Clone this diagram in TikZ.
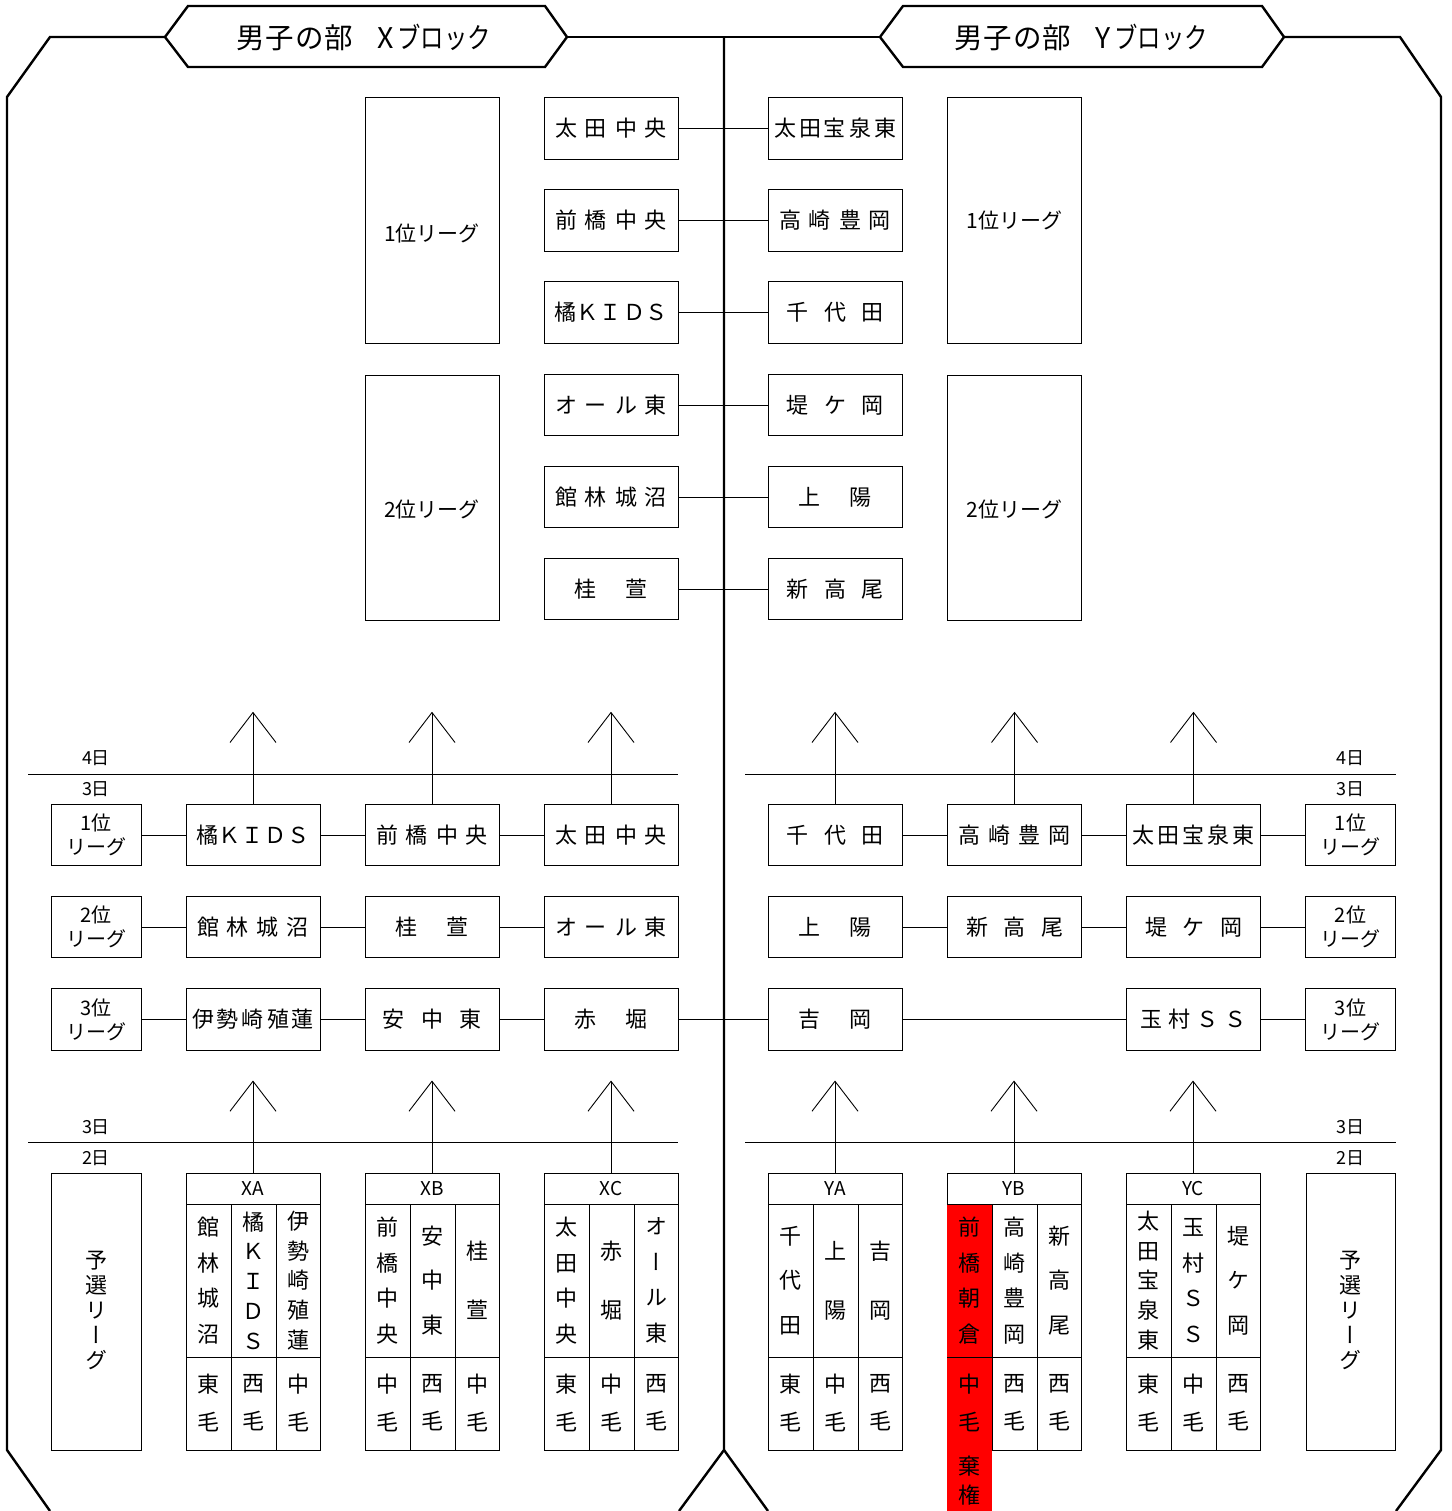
\documentclass[tikz,border=0pt]{standalone}
\usepackage{fontspec}
\setmainfont{Noto Sans CJK JP}
\newfontfamily\ttlfont{Noto Sans CJK JP}[FakeStretch=0.82]
\usetikzlibrary{arrows.meta}
\newcommand\gtab[3]{%
  \node[tbl] (#1) at (#2+67,1311.5) {};
  \draw[tline] (#2,1204) -- ++(134,0);
  \draw[tline] (#2,1357) -- ++(134,0);
  \draw[tline] (#2+45,1204) -- (#2+45,1450);
  \draw[tline] (#2+90,1204) -- (#2+90,1450);
  \node[hdr] (#1h) at (#2+67,1188.5) {#3};
}
\begin{document}
\begin{tikzpicture}[x=1pt,y=-1pt,
  box/.style={draw,line width=1pt,minimum width=134pt,minimum height=61.5pt,inner sep=0pt,font=\fontsize{22}{26}\selectfont},
  lg/.style={draw,line width=1pt,minimum width=90pt,minimum height=61.5pt,inner sep=0pt,align=center,font=\fontsize{20}{24}\selectfont},
  big/.style={draw,line width=1pt,minimum width=134pt,minimum height=245pt,inner sep=0pt},
  lbl/.style={inner sep=0pt,font=\fontsize{21}{25}\selectfont},
  gapx/.style={execute at begin node={\spaceskip=#1pt\relax}},
  link/.style={line width=0.8pt},
  frm/.style={line width=2.4pt},
  uparrow/.style={line width=0.9pt,-{Straight Barb[length=30pt,width=46pt]}},
  day/.style={font=\fontsize{18}{20}\selectfont,inner sep=0pt},
  dayline/.style={line width=0.8pt},
  tbl/.style={draw,line width=1pt,minimum width=134pt,minimum height=277pt,inner sep=0pt},
  tline/.style={line width=1pt},
  hdr/.style={font=\fontsize{19}{22}\selectfont,inner sep=0pt},
  vt/.style={align=center,inner sep=0pt,font=\addfontfeature{RawFeature=+vert}\fontsize{22}{#1}\selectfont},
  ttl/.style={font=\fontsize{28.5}{32}\selectfont,inner sep=0pt,anchor=west}]
\useasboundingbox (0,0) rectangle (1451,1511);

% titles
\coordinate (xl) at (165,37); \coordinate (xr) at (567,37);
\coordinate (yl) at (880,37); \coordinate (yr) at (1284,37);
\draw[frm] (xl) -- (188,6) -- (545,6) -- (xr) -- (545,67) -- (188,67) -- cycle;
\draw[frm] (yl) -- (903,6) -- (1262,6) -- (yr) -- (1262,67) -- (903,67) -- cycle;
\node[ttl] (xt) at (236,37) {男\hspace{1pt}子\hspace{1pt}の\hspace{1pt}部\hspace{24pt}X\hspace{4pt}{\ttlfont ブロック}};
\node[ttl] (yt) at (954,37) {男\hspace{1pt}子\hspace{1pt}の\hspace{1pt}部\hspace{24pt}Y\hspace{4pt}{\ttlfont ブロック}};

% frame
\draw[frm] (xl) -- (50,37) -- (7,97) -- (7,1450) -- (50,1511);
\draw[frm] (xr) -- (yl);
\draw[frm] (724,37) -- (724,1450) -- (679,1511);
\draw[frm] (724,1450) -- (768,1511);
\draw[frm] (yr) -- (1400,37) -- (1441,97) -- (1441,1450) -- (1396,1511);

% top leagues
\node[big] (xL1) at (432,220.5) {};
\node[big] (xL2) at (432,497.5) {};
\node[big] (yL1) at (1014.5,220.5) {};
\node[big] (yL2) at (1014.5,497.5) {};
\node[lbl] (xL1t) at (432,233) {1位リーグ};
\node[lbl] (xL2t) at (432,509) {2位リーグ};
\node[lbl] (yL1t) at (1014.5,220) {1位リーグ};
\node[lbl] (yL2t) at (1014.5,509) {2位リーグ};

% top teams
\node[box,gapx=8] (tx1) at (611,128.5) {太 田 中 央};
\node[box,gapx=8] (tx2) at (611,220.5) {前 橋 中 央};
\node[box,gapx=1] (tx3) at (611,312.5) {橘 Ｋ Ｉ Ｄ Ｓ};
\node[box,gapx=8] (tx4) at (611,405) {オ ー ル 東};
\node[box,gapx=8] (tx5) at (611,497) {館 林 城 沼};
\node[box,gapx=30] (tx6) at (611,589) {桂 萱};
\node[box,gapx=3] (ty1) at (835,128.5) {太 田 宝 泉 東};
\node[box,gapx=8] (ty2) at (835,220.5) {高 崎 豊 岡};
\node[box,gapx=15.5] (ty3) at (835,312.5) {千 代 田};
\node[box,gapx=15.5] (ty4) at (835,405) {堤 ケ 岡};
\node[box,gapx=30] (ty5) at (835,497) {上 陽};
\node[box,gapx=15.5] (ty6) at (835,589) {新 高 尾};
\foreach \i in {1,...,6} \draw[link] (tx\i.east) -- (ty\i.west);

% day lines
\draw[dayline] (28,774) -- (678,774);
\draw[dayline] (745,774) -- (1396,774);
\draw[dayline] (28,1142) -- (678,1142);
\draw[dayline] (745,1142) -- (1396,1142);
\node[day] (d4l) at (96,758) {4日};
\node[day] (d3l) at (96,789) {3日};
\node[day] (d4r) at (1350,758) {4日};
\node[day] (d3r) at (1350,789) {3日};
\node[day] (e3l) at (96,1127) {3日};
\node[day] (e2l) at (96,1158) {2日};
\node[day] (e3r) at (1350,1127) {3日};
\node[day] (e2r) at (1350,1158) {2日};

% middle rows
\node[lg] (m1a) at (96,835) {1位\\リーグ};
\node[box,gapx=1] (m1b) at (253,835) {橘 Ｋ Ｉ Ｄ Ｓ};
\node[box,gapx=8] (m1c) at (432,835) {前 橋 中 央};
\node[box,gapx=8] (m1d) at (611,835) {太 田 中 央};
\node[box,gapx=15.5] (m1e) at (835,835) {千 代 田};
\node[box,gapx=8] (m1f) at (1014.5,835) {高 崎 豊 岡};
\node[box,gapx=3] (m1g) at (1193.5,835) {太 田 宝 泉 東};
\node[lg] (m1h) at (1350.5,835) {1位\\リーグ};

\node[lg] (m2a) at (96,927) {2位\\リーグ};
\node[box,gapx=8] (m2b) at (253,927) {館 林 城 沼};
\node[box,gapx=30] (m2c) at (432,927) {桂 萱};
\node[box,gapx=8] (m2d) at (611,927) {オ ー ル 東};
\node[box,gapx=30] (m2e) at (835,927) {上 陽};
\node[box,gapx=15.5] (m2f) at (1014.5,927) {新 高 尾};
\node[box,gapx=15.5] (m2g) at (1193.5,927) {堤 ケ 岡};
\node[lg] (m2h) at (1350.5,927) {2位\\リーグ};

\node[lg] (m3a) at (96,1019.5) {3位\\リーグ};
\node[box,gapx=3] (m3b) at (253,1019.5) {伊 勢 崎 殖 蓮};
\node[box,gapx=16.5] (m3c) at (432,1019.5) {安 中 東};
\node[box,gapx=30] (m3d) at (611,1019.5) {赤 堀};
\node[box,gapx=30] (m3e) at (835,1019.5) {吉 岡};
\node[box,gapx=6] (m3g) at (1193.5,1019.5) {玉 村 Ｓ Ｓ};
\node[lg] (m3h) at (1350.5,1019.5) {3位\\リーグ};

\foreach \r in {1,2} {
  \draw[link] (m\r a.east) -- (m\r b.west);
  \draw[link] (m\r b.east) -- (m\r c.west);
  \draw[link] (m\r c.east) -- (m\r d.west);
  \draw[link] (m\r e.east) -- (m\r f.west);
  \draw[link] (m\r f.east) -- (m\r g.west);
  \draw[link] (m\r g.east) -- (m\r h.west);
}
\draw[link] (m3a.east) -- (m3b.west);
\draw[link] (m3b.east) -- (m3c.west);
\draw[link] (m3c.east) -- (m3d.west);
\draw[link] (m3d.east) -- (m3e.west);
\draw[link] (m3e.east) -- (m3g.west);
\draw[link] (m3g.east) -- (m3h.west);

\foreach \n in {m1b,m1c,m1d,m1e,m1f,m1g} \draw[uparrow] (\n.north) -- ++(0,-92);

% bottom
\node[tbl,minimum width=90pt] (pl) at (96,1311.5) {};
\node[tbl,minimum width=89pt] (pr) at (1350.5,1311.5) {};
\node[vt=25] (plt) at (96,1310) {予\\選\\リ\\ー\\グ};
\node[vt=25] (prt) at (1350.5,1310) {予\\選\\リ\\ー\\グ};

\gtab{XA}{186}{XA}
\gtab{XB}{365}{XB}
\gtab{XC}{544}{XC}
\gtab{YA}{768}{YA}
\gtab{YB}{947}{YB}
\gtab{YC}{1126}{YC}
\fill[red] (946.5,1204.5) rectangle (992,1511);
\draw[tline] (947,1357) -- (992,1357);
\draw[tline] (992,1204) -- (992,1450);

\foreach \n in {XA,XB,XC,YA,YB,YC} \draw[uparrow] (\n.north) -- ++(0,-92);

% XA
\node[vt=35.7] (xa1) at (208,1280.5) {館\\林\\城\\沼};
\node[vt=29.75] (xa2) at (253,1280.5) {橘\\Ｋ\\Ｉ\\Ｄ\\Ｓ};
\node[vt=29.75] (xa3) at (298,1280.5) {伊\\勢\\崎\\殖\\蓮};
\node[vt=38] (xa4) at (208,1403) {東\\毛};
\node[vt=38] (xa5) at (253,1403) {西\\毛};
\node[vt=38] (xa6) at (298,1403) {中\\毛};
% XB
\node[vt=35.7] (xb1) at (387.5,1280.5) {前\\橋\\中\\央};
\node[vt=44.5] (xb2) at (432,1280.5) {安\\中\\東};
\node[vt=59] (xb3) at (477,1280.5) {桂\\萱};
\node[vt=38] (xb4) at (387.5,1403) {中\\毛};
\node[vt=38] (xb5) at (432,1403) {西\\毛};
\node[vt=38] (xb6) at (477,1403) {中\\毛};
% XC
\node[vt=35.7] (xc1) at (566.5,1280.5) {太\\田\\中\\央};
\node[vt=59] (xc2) at (611,1280.5) {赤\\堀};
\node[vt=35.7] (xc3) at (656,1280.5) {オ\\ー\\ル\\東};
\node[vt=38] (xc4) at (566.5,1403) {東\\毛};
\node[vt=38] (xc5) at (611,1403) {中\\毛};
\node[vt=38] (xc6) at (656,1403) {西\\毛};
% YA
\node[vt=44.5] (ya1) at (790.5,1280.5) {千\\代\\田};
\node[vt=59] (ya2) at (835,1280.5) {上\\陽};
\node[vt=59] (ya3) at (880,1280.5) {吉\\岡};
\node[vt=38] (ya4) at (790.5,1403) {東\\毛};
\node[vt=38] (ya5) at (835,1403) {中\\毛};
\node[vt=38] (ya6) at (880,1403) {西\\毛};
% YB
\node[vt=35.7] (yb1) at (969.5,1280.5) {前\\橋\\朝\\倉};
\node[vt=35.7] (yb2) at (1014,1280.5) {高\\崎\\豊\\岡};
\node[vt=44.5] (yb3) at (1059,1280.5) {新\\高\\尾};
\node[vt=38] (yb4) at (969.5,1403) {中\\毛};
\node[vt=38] (yb5) at (1014,1403) {西\\毛};
\node[vt=38] (yb6) at (1059,1403) {西\\毛};
\node[vt=29] (yb7) at (969.5,1480.5) {棄\\権};
% YC
\node[vt=29.75] (yc1) at (1148.5,1280.5) {太\\田\\宝\\泉\\東};
\node[vt=35.7] (yc2) at (1193,1280.5) {玉\\村\\Ｓ\\Ｓ};
\node[vt=44.5] (yc3) at (1238,1280.5) {堤\\ケ\\岡};
\node[vt=38] (yc4) at (1148.5,1403) {東\\毛};
\node[vt=38] (yc5) at (1193,1403) {中\\毛};
\node[vt=38] (yc6) at (1238,1403) {西\\毛};
\end{tikzpicture}
\end{document}
